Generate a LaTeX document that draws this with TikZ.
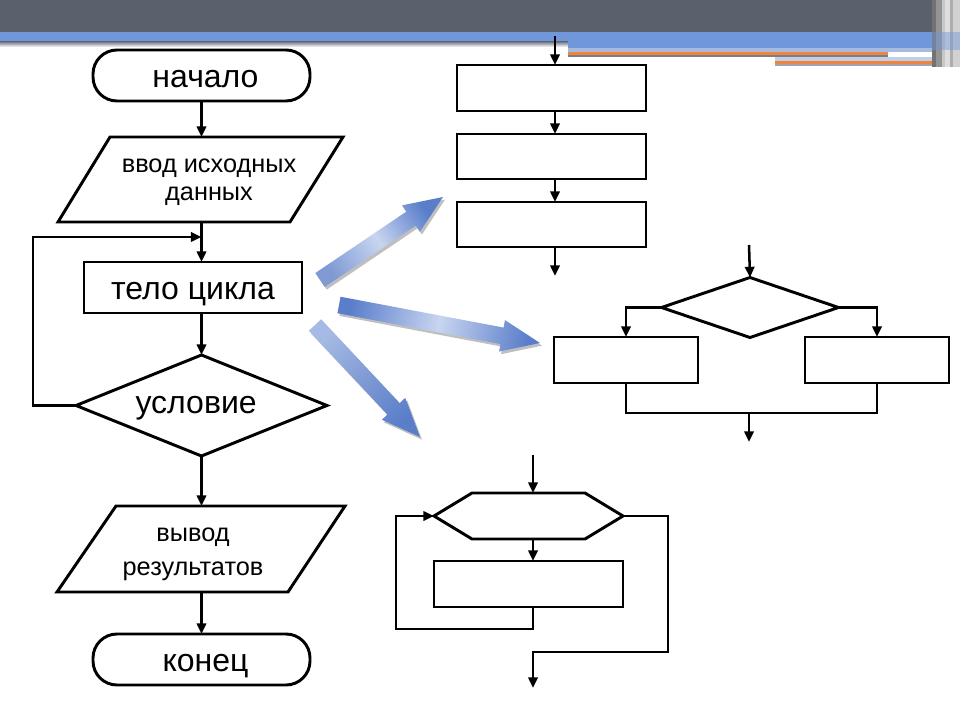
\documentclass[tikz,border=0pt]{standalone}
\usepackage{fontspec}
\setmainfont{Liberation Sans}
\usetikzlibrary{shapes.geometric,calc,arrows.meta}
\definecolor{barDark}{RGB}{90,96,108}
\definecolor{barBlue}{RGB}{111,151,217}
\definecolor{barLight}{RGB}{168,186,222}
\definecolor{barOrange}{RGB}{240,132,60}
\definecolor{barShadow}{RGB}{120,126,138}
\definecolor{arrDark}{RGB}{90,126,202}
\definecolor{arrLight}{RGB}{200,213,240}
\definecolor{arrMid}{RGB}{128,155,212}
\definecolor{arrPale}{RGB}{165,186,228}
\newcommand\blockarr[3]{%
  \coordinate (#1h) at ($(#2)!29pt!(#1)$);
  \path[#3] ($(#1)!6.3pt!90:(#2)$) -- ($(#1h)!6.3pt!-90:(#1)$) -- ($(#1h)!12pt!-90:(#1)$) -- (#2) -- ($(#1h)!12pt!90:(#1)$) -- ($(#1h)!6.3pt!90:(#1)$) -- ($(#1)!6.3pt!-90:(#2)$) -- cycle;}
\begin{document}
\begin{tikzpicture}[x=0.75pt,y=-0.75pt,
  shapeline/.style={line width=2.2pt, line join=miter},
  box/.style={draw, line width=2.2pt, inner sep=0pt, outer sep=0pt},
  ghost/.style={inner sep=0pt, outer sep=0pt},
  big/.style={font=\fontsize{24}{28}\selectfont, text depth=0pt},
  term/.style={box, big, rounded corners=18pt, minimum width=162.75pt, minimum height=38.25pt},
  iotext/.style={font=\fontsize{19}{21}\selectfont, align=center, inner sep=0pt},
  conn/.style={line width=1.9pt, -{Triangle[length=8pt,width=7pt]}},
  plain/.style={line width=1.9pt},
  shadowed/.style={fill=black, opacity=0.25, transform canvas={xshift=1.5pt,yshift=-2pt}}]
\useasboundingbox (0,0) rectangle (960,720);
% ---- top bar ----
\fill[barDark] (0,0) rectangle (932,32);
\fill[barBlue] (0,32) rectangle (568,42);
\shade[top color=barShadow, bottom color=white] (0,42) rectangle (568,47);
\fill[barBlue] (568,32) rectangle (932,48);
\fill[barLight] (568,48) rectangle (932,52);
\fill[barOrange] (568,52) rectangle (888,55);
\fill[barShadow] (568,55) rectangle (888,57);
\fill[barLight!70!white] (775,57) rectangle (940,61);
\fill[barOrange] (775,61) rectangle (943,64);
\fill[barShadow!70!white] (775,64) rectangle (943,66);
\fill[black!55] (932,0) rectangle (936,67);
\fill[black!42] (936,0) rectangle (942,67);
\fill[black!22] (942,0) rectangle (945,67);
\fill[black!13] (945,0) rectangle (950,67);
\fill[black!32] (950,0) rectangle (953,67);
\fill[black!18] (953,0) rectangle (960,67);
\fill[barBlue, opacity=0.45] (932,32) rectangle (960,50);
% ---- left flowchart ----
\node[term, text height=18.5pt] (start) at (201.5,75.5) {\hspace*{6pt}начало};
\node[ghost, minimum width=213.75pt, minimum height=63.75pt,
  label={[iotext, xshift=6.4pt, yshift=-1.9pt]center:ввод исходных\\данных}] (in) at (200.5,179.5) {};
\draw[shapeline] ([shift={(52,0)}]in.north west) -- (in.north east) -- ([shift={(-53,0)}]in.south east) -- (in.south west) -- cycle;
\node[box, big, text height=18.5pt, minimum width=163.5pt, minimum height=38.25pt] (body) at (193,287.5) {тело цикла};
\node[box, big, text height=12.5pt, diamond, aspect=2.49, minimum width=188.25pt, minimum height=75.75pt] (cond) at (201.5,405.5) {\hspace*{-8pt}условие};
\node[ghost, minimum width=216pt, minimum height=64.5pt,
  label={[iotext, font=\fontsize{19}{25}\selectfont, xshift=-6pt, yshift=-4pt]center:вывод\\результатов}] (out) at (201,549) {};
\draw[shapeline] ([shift={(59,0)}]out.north west) -- (out.north east) -- ([shift={(-57,0)}]out.south east) -- (out.south west) -- cycle;
\node[term, text height=17.7pt] (end) at (201.5,659.5) {\hspace*{6pt}конец};
\draw[conn] (start) -- (in.north -| start);
\draw[conn] (in.south -| start) -- (body.north -| start);
\draw[conn] (body.south -| start) -- (cond.north);
\draw[conn] (cond.south) -- (out.north -| cond);
\draw[conn] (out.south -| cond) -- (end);
\coordinate (lp) at (33,237);
\coordinate (j1) at (201.5,237);
\draw[conn] (cond.west) -| (lp) -- (j1);
% ---- sequence ----
\coordinate (s0) at (555,36);
\node[box, minimum width=141.75pt, minimum height=34.5pt] (b1) at (551.5,88) {};
\node[box, minimum width=141.75pt, minimum height=33.75pt] (b2) at (551.5,156.5) {};
\node[box, minimum width=141.75pt, minimum height=33.75pt] (b3) at (551.5,224.5) {};
\coordinate (s9) at (555,276);
\draw[conn] (s0) -- (s0 |- b1.north);
\draw[conn] (b1.south -| s0) -- (b2.north -| s0);
\draw[conn] (b2.south -| s0) -- (b3.north -| s0);
\draw[conn] (b3.south -| s0) -- (s9);
% ---- branching ----
\coordinate (t0) at (749,245);
\node[box, diamond, aspect=2.95, minimum width=132.75pt, minimum height=45pt] (d) at (750,307.5) {};
\node[box, minimum width=108pt, minimum height=34.5pt] (bl) at (626,360) {};
\node[box, minimum width=108pt, minimum height=34.5pt] (br) at (877,360) {};
\draw[conn] (t0) -- (d.north);
\draw[conn] (d.west) -| (bl.north);
\draw[conn] (d.east) -| (br.north);
\draw[plain] (bl.south) -- ++(0,30) -| (br.south);
\coordinate (m0) at (749,413);
\coordinate (m9) at (749,442);
\draw[conn] (m0) -- (m9);
% ---- loop with hexagon ----
\coordinate (h0) at (533,455);
\node[ghost, minimum width=141.75pt, minimum height=34.5pt] (hx) at (528.5,516) {};
\draw[shapeline] ([shift={(38,0)}]hx.north west) -- ([shift={(-38,0)}]hx.north east) -- (hx.east) -- ([shift={(-38,0)}]hx.south east) -- ([shift={(38,0)}]hx.south west) -- (hx.west) -- cycle;
\node[box, minimum width=141.75pt, minimum height=34.5pt] (lr) at (528.5,584) {};
\draw[conn] (h0) -- (h0 |- hx.north);
\draw[conn] (hx.south -| h0) -- (lr.north -| h0);
\coordinate (lq) at (396,516);
\draw[conn] (lr.south -| h0) -- ++(0,22) -| (lq) -- (hx.west);
\coordinate (rq) at (668,652);
\coordinate (h9) at (533,688);
\draw[conn] (hx.east) -| (rq) -| (h9);
% ---- blue block arrows ----
\coordinate (a1t) at (320,280); \coordinate (a1) at (443,197);
\coordinate (a2t) at (339,305); \coordinate (a2) at (540,343);
\coordinate (a3t) at (315,325); \coordinate (a3) at (420,437);
\blockarr{a1t}{a1}{shadowed}
\blockarr{a2t}{a2}{shadowed}
\blockarr{a3t}{a3}{shadowed}
\blockarr{a1t}{a1}{top color=arrDark, bottom color=arrMid, middle color=arrLight, shading angle=-56}
\blockarr{a2t}{a2}{top color=arrDark, bottom color=arrDark, middle color=arrLight, shading angle=-100.5}
\blockarr{a3t}{a3}{top color=arrDark, bottom color=arrPale, middle color=arrMid, shading angle=-136.8}
\end{tikzpicture}
\end{document}
